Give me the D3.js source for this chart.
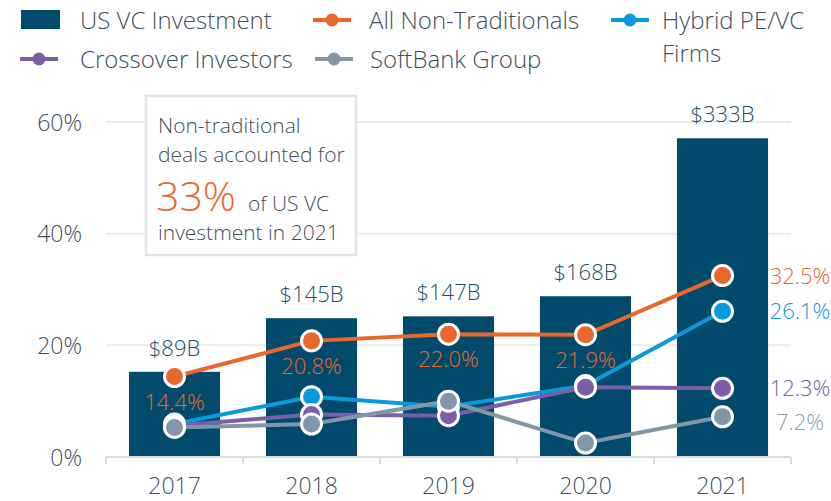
<!DOCTYPE html>
<html>
<head>
<meta charset="utf-8">
<script src="https://cdn.jsdelivr.net/npm/d3@7"></script>
<style>
  body { margin: 0; background: #fff; }
  text { font-family: 'Open Sans', sans-serif; font-weight: 300; }
</style>
</head>
<body>
<svg id="chart" width="831" height="501"></svg>
<script>
// data
var years = ["2017", "2018", "2019", "2020", "2021"];
var investment = [89, 145, 147, 168, 333];          // $B, US VC investment
var nonTraditional = [14.4, 20.8, 22.0, 21.9, 32.5]; // % of deal value
var hybrid = [5.9, 10.8, 9.0, 12.8, 26.1];
var crossover = [5.6, 7.6, 7.4, 12.5, 12.3];
var softbank = [5.3, 5.9, 10.0, 2.5, 7.2];
var yTicks = [0, 20, 40, 60];

var series = [
  {name: "All Non-Traditionals", values: nonTraditional, color: "#e8672b", label: "#e8672b"},
  {name: "Hybrid PE/VC Firms", values: hybrid, color: "#0b99dd", label: "#0b99dd"},
  {name: "Crossover Investors", values: crossover, color: "#7a5ea8", label: "#7a5ea8"},
  {name: "SoftBank Group", values: softbank, color: "#8196a8", label: "#8a9db0"}
];

var textColor = "#3f4f5c";
var barColor = "#024a6b";

var svg = d3.select("#chart");

//scales
var x = d3.scaleBand()
          .domain(years)
          .range([106, 791])
          .paddingInner(0.335)
          .paddingOuter(0.1675);

var y = d3.scaleLinear()
          .domain([0, 60])
          .range([457, 122]);

// bars sit on a hidden secondary axis
var yBar = d3.scaleLinear()
          .domain([0, 350])
          .range([457, 122]);

var cx = function(i){ return x(years[i]) + x.bandwidth() / 2; };

// gridlines
svg.append("g")
   .selectAll("line")
   .data(yTicks.slice(1))
   .enter()
   .append("line")
   .attr("x1", 106)
   .attr("x2", 791)
   .attr("y1", function(d){ return y(d); })
   .attr("y2", function(d){ return y(d); })
   .style("stroke", "#eaedf0")
   .style("stroke-width", 2);

// y axis labels
var yAxis = d3.axisLeft(y).tickValues(yTicks).tickSize(0).tickPadding(24)
              .tickFormat(function(d){ return d + "%"; });
var yG = svg.append("g").attr("transform", "translate(106,0)").call(yAxis);
yG.select(".domain").remove();
yG.selectAll("text")
  .style("font-family", "'Open Sans', sans-serif")
  .style("font-size", "23px")
  .attr("fill", textColor)
  .attr("dy", "0.36em");

// bars
svg.append("g")
   .selectAll("rect")
   .data(investment)
   .enter()
   .append("rect")
   .attr("x", function(d, i){ return x(years[i]); })
   .attr("y", function(d){ return yBar(d); })
   .attr("width", x.bandwidth())
   .attr("height", function(d){ return yBar(0) - yBar(d); })
   .attr("fill", barColor);

svg.append("g")
   .selectAll("text")
   .data(investment)
   .enter()
   .append("text")
   .attr("x", function(d, i){ return cx(i); })
   .attr("y", function(d){ return yBar(d) - 16; })
   .attr("text-anchor", "middle")
   .attr("fill", "#1d4f6c")
   .style("font-size", "22px")
   .text(function(d){ return "$" + d + "B"; });

// x axis
var step = x.step();
var xAxis = d3.axisBottom(x).tickSize(0).tickPadding(0);
var xG = svg.append("g").attr("transform", "translate(0,457)").call(xAxis);
xG.select(".domain").remove();
xG.selectAll("text")
  .style("font-family", "'Open Sans', sans-serif")
  .style("font-size", "23px")
  .attr("fill", textColor)
  .attr("y", 37)
  .attr("dy", 0);

var edges = years.map(function(d, i){ return cx(i) - step / 2; });
edges.push(cx(years.length - 1) + step / 2);
svg.append("line")
   .attr("x1", edges[0]).attr("x2", edges[edges.length - 1])
   .attr("y1", 457).attr("y2", 457)
   .style("stroke", "#d6dce1").style("stroke-width", 2);
svg.append("g")
   .selectAll("line")
   .data(edges)
   .enter()
   .append("line")
   .attr("x1", function(d){ return d; }).attr("x2", function(d){ return d; })
   .attr("y1", 457).attr("y2", 464)
   .style("stroke", "#d6dce1").style("stroke-width", 2);

// annotation box
var box = svg.append("g");
box.append("rect")
   .attr("x", 146).attr("y", 96).attr("width", 210).attr("height", 159)
   .attr("fill", "white")
   .style("stroke", "#dfe4e8").style("stroke-width", 2.5);
var boxLines = [["Non-traditional", 133], ["deals accounted for", 162], ["investment in 2021", 240]];
box.selectAll("text.line")
   .data(boxLines)
   .enter()
   .append("text")
   .attr("x", 158)
   .attr("y", function(d){ return d[1]; })
   .attr("fill", textColor)
   .style("font-size", "21px")
   .text(function(d){ return d[0]; });
var big = box.append("text").attr("x", 156).attr("y", 211).attr("fill", textColor).style("font-size", "21px");
big.append("tspan").attr("fill", "#e8672b").style("font-size", "41px").text("33%");
big.append("tspan").attr("dx", 12).text("of US VC");

// lines + points
var line = d3.line()
             .x(function(d, i){ return cx(i); })
             .y(function(d){ return y(d); });

series.forEach(function(s){
  var g = svg.append("g");
  g.append("path")
   .datum(s.values)
   .attr("d", line)
   .attr("fill", "none")
   .style("stroke", s.color)
   .style("stroke-width", 4);
  g.selectAll("circle")
   .data(s.values)
   .enter()
   .append("circle")
   .attr("cx", function(d, i){ return cx(i); })
   .attr("cy", function(d){ return y(d); })
   .attr("r", 10)
   .attr("fill", s.color)
   .style("stroke", "white")
   .style("stroke-width", 3);
});

// value labels for non-traditionals, 2017-2020 below points
svg.append("g")
   .selectAll("text")
   .data(nonTraditional.slice(0, 4))
   .enter()
   .append("text")
   .attr("x", function(d, i){ return cx(i); })
   .attr("y", function(d){ return y(d) + 33; })
   .attr("text-anchor", "middle")
   .attr("fill", "#e8672b")
   .style("font-size", "22px")
   .text(function(d){ return d.toFixed(1) + "%"; });

// 2021 labels at right, pushed apart so they do not collide
var last = years.length - 1;
var endLabels = series.map(function(s){ return {s: s, y: y(s.values[last]) + 8}; })
                      .sort(function(a, b){ return a.y - b.y; });
for (var k = 1; k < endLabels.length; k++) {
  if (endLabels[k].y - endLabels[k - 1].y < 34) endLabels[k].y = endLabels[k - 1].y + 34;
}
svg.append("g")
   .selectAll("text")
   .data(endLabels)
   .enter()
   .append("text")
   .attr("x", 800)
   .attr("y", function(d){ return d.y; })
   .attr("text-anchor", "middle")
   .attr("fill", function(d){ return d.s.label; })
   .style("font-size", "22px")
   .text(function(d){ return d.s.values[last].toFixed(1) + "%"; });

// legend
var legend = svg.append("g").style("font-size", "24px");
legend.append("rect").attr("x", 21).attr("y", 10).attr("width", 39).attr("height", 19).attr("fill", barColor);
legend.append("text").attr("x", 80).attr("y", 28.5).attr("fill", textColor).text("US VC Investment");

var legendItems = [
  {s: series[0], x: 313, y: 20, tx: 369, lines: ["All Non-Traditionals"]},
  {s: series[1], x: 611, y: 20, tx: 662, lines: ["Hybrid PE/VC", "Firms"]},
  {s: series[2], x: 20, y: 59, tx: 80, lines: ["Crossover Investors"]},
  {s: series[3], x: 315, y: 59, tx: 370, lines: ["SoftBank Group"]}
];
legendItems.forEach(function(item){
  var g = legend.append("g").attr("transform", "translate(" + item.x + ",0)");
  g.append("line").attr("x1", 0).attr("x2", 38).attr("y1", item.y).attr("y2", item.y)
   .style("stroke", item.s.color).style("stroke-width", 4);
  g.append("circle").attr("cx", 19).attr("cy", item.y).attr("r", 6.5).attr("fill", item.s.color);
  item.lines.forEach(function(t, j){
    g.append("text").attr("x", item.tx - item.x).attr("y", item.y + 8.5 + j * 33).attr("fill", textColor).text(t);
  });
});
</script>
</body>
</html>
